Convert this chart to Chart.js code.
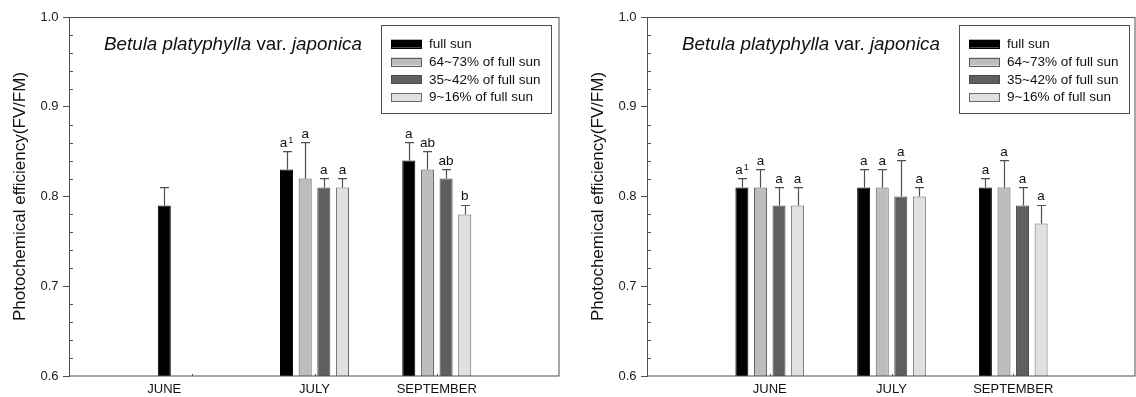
<!DOCTYPE html>
<html>
<head>
<meta charset="utf-8">
<script src="https://cdn.jsdelivr.net/npm/chart.js@4.4.1/dist/chart.umd.min.js"></script>
<style>
  html, body { margin: 0; padding: 0; background: #fff; }
  #wrap { position: relative; width: 1136px; height: 397px; overflow: hidden; }
  canvas { position: absolute; top: 0; }
  #left { left: 0; }
  #right { left: 568px; }
</style>
</head>
<body>
<div id="wrap">
  <canvas id="left" width="568" height="397"></canvas>
  <canvas id="right" width="568" height="397"></canvas>
</div>
<script>
// ---- data -------------------------------------------------------------
const categories = ['JUNE', 'JULY', 'SEPTEMBER'];
const seriesLabels = ['full sun', '64~73% of full sun', '35~42% of full sun', '9~16% of full sun'];
const yTicks = [0.6, 0.7, 0.8, 0.9, 1.0];
const speciesName = ['Betula platyphylla', 'var.', 'japonica'];
const yTitle = 'Photochemical efficiency(FV/FM)';

// left panel: means, upper standard errors and Duncan letters
const leftFullSun    = [0.79, 0.83, 0.84];
const leftShade64    = [null, 0.82, 0.83];
const leftShade35    = [null, 0.81, 0.82];
const leftShade9     = [null, 0.81, 0.78];
const leftFullSunErr = [0.02, 0.02, 0.02];
const leftShade64Err = [null, 0.04, 0.02];
const leftShade35Err = [null, 0.01, 0.01];
const leftShade9Err  = [null, 0.01, 0.01];
const leftFullSunSig = ['', 'a¹', 'a'];
const leftShade64Sig = ['', 'a', 'ab'];
const leftShade35Sig = ['', 'a', 'ab'];
const leftShade9Sig  = ['', 'a', 'b'];

// right panel
const rightFullSun    = [0.81, 0.81, 0.81];
const rightShade64    = [0.81, 0.81, 0.81];
const rightShade35    = [0.79, 0.80, 0.79];
const rightShade9     = [0.79, 0.80, 0.77];
const rightFullSunErr = [0.01, 0.02, 0.01];
const rightShade64Err = [0.02, 0.02, 0.03];
const rightShade35Err = [0.02, 0.04, 0.02];
const rightShade9Err  = [0.02, 0.01, 0.02];
const rightFullSunSig = ['a¹', 'a', 'a'];
const rightShade64Sig = ['a', 'a', 'a'];
const rightShade35Sig = ['a', 'a', 'a'];
const rightShade9Sig  = ['a', 'a', 'a'];

// ---- styling ----------------------------------------------------------
const FONT = '"Liberation Sans", Arial, Helvetica, sans-serif';
const seriesFill = ['#000000', '#bdbdbd', '#5f5f5f', '#e0e0e0'];
const seriesEdge = ['#000000', '#5a5a5a', '#4a4a4a', '#6a6a6a'];
const INK = '#111111';
const LINE = '#4f4f4f';
const CAT_PCT = 0.61;

// frame, minor ticks, error bars, letters, species name and boxed legend
const decorations = {
  id: 'decorations',
  afterDatasetsDraw(chart) {
    const { ctx, chartArea: a, scales: { x, y } } = chart;
    ctx.save();

    // frame around the plotting area
    ctx.strokeStyle = LINE;
    ctx.lineWidth = 1;
    ctx.strokeRect(Math.round(a.left) - 0.5, Math.round(a.top) + 0.5,
                   Math.round(a.right) - Math.round(a.left) + 0.5, Math.round(a.bottom) - Math.round(a.top) - 0.5);

    // short inward minor ticks every 0.02
    ctx.beginPath();
    for (let k = 1; k < 20; k++) {
      if (k % 5 === 0) continue;
      const py = Math.round(y.getPixelForValue(0.6 + k * 0.02)) + 0.5;
      ctx.moveTo(a.left, py);
      ctx.lineTo(a.left + 3, py);
    }
    // tiny inward ticks at the category positions
    categories.forEach((c, i) => {
      const px = Math.round(x.getPixelForValue(i)) + 0.5;
      ctx.moveTo(px, a.bottom);
      ctx.lineTo(px, a.bottom - 2);
    });
    ctx.stroke();

    // error bars (upper side only) and significance letters
    chart.data.datasets.forEach((ds, di) => {
      const meta = chart.getDatasetMeta(di);
      meta.data.forEach((bar, i) => {
        const v = ds.data[i];
        if (v === null || v === undefined) return;
        const e = ds.errors[i] || 0;
        const top = y.getPixelForValue(v + e);
        const cx = Math.round(bar.x) + 0.5;
        ctx.strokeStyle = LINE;
        ctx.lineWidth = 1.2;
        ctx.beginPath();
        ctx.moveTo(cx, bar.y);
        ctx.lineTo(cx, top);
        ctx.moveTo(cx - 4.5, top);
        ctx.lineTo(cx + 4.5, top);
        ctx.stroke();

        const txt = ds.letters[i];
        if (!txt) return;
        const main = txt.replace('¹', '');
        const sup = txt.includes('¹') ? '1' : '';
        ctx.fillStyle = INK;
        ctx.textBaseline = 'alphabetic';
        ctx.textAlign = 'left';
        ctx.font = '13.5px ' + FONT;
        const wMain = ctx.measureText(main).width;
        ctx.font = '9px ' + FONT;
        const wSup = sup ? ctx.measureText(sup).width + 1 : 0;
        const x0 = bar.x - (wMain + wSup) / 2;
        const base = top - 5;
        ctx.font = '13.5px ' + FONT;
        ctx.fillText(main, x0, base);
        if (sup) {
          ctx.font = '9px ' + FONT;
          ctx.fillText(sup, x0 + wMain + 1, base - 4);
        }
      });
    });

    // species name: italic binomial, upright "var."
    let tx = a.left + 34;
    const ty = 50;
    ctx.fillStyle = INK;
    ctx.textAlign = 'left';
    ctx.textBaseline = 'alphabetic';
    speciesName.forEach((part, k) => {
      ctx.font = (k === 1 ? '' : 'italic ') + '18.8px ' + FONT;
      const s = (k === 0 ? '' : ' ') + part;
      ctx.fillText(s, tx, ty);
      tx += ctx.measureText(s).width;
    });

    // legend box
    const bx = a.left + 311, by = 25, bw = 170, bh = 88;
    ctx.strokeStyle = LINE;
    ctx.lineWidth = 1;
    ctx.strokeRect(Math.round(bx) + 0.5, by + 0.5, bw, bh);
    ctx.font = '13.5px ' + FONT;
    ctx.textBaseline = 'middle';
    chart.data.datasets.forEach((ds, k) => {
      const cy = by + 18.7 + 17.8 * k;
      ctx.fillStyle = ds.backgroundColor;
      ctx.fillRect(bx + 10, cy - 4, 31, 8);
      ctx.strokeStyle = ds.borderColor;
      ctx.strokeRect(Math.round(bx + 10) + 0.5, Math.round(cy - 4) + 0.5, 30, 8);
      ctx.fillStyle = INK;
      ctx.fillText(ds.label, bx + 48, cy + 0.5);
    });

    ctx.restore();
  }
};

function makeChart(id, values, errors, letters, padLeft, padRight) {
  const datasets = values.map((vals, k) => ({
    label: seriesLabels[k],
    data: vals,
    errors: errors[k],
    letters: letters[k],
    backgroundColor: seriesFill[k],
    borderColor: seriesEdge[k],
    borderWidth: 1,
    categoryPercentage: CAT_PCT,
    barPercentage: 0.7
  }));

  return new Chart(document.getElementById(id), {
    type: 'bar',
    data: { labels: categories, datasets },
    plugins: [decorations],
    options: {
      responsive: false,
      devicePixelRatio: 1,
      animation: false,
      events: [],
      layout: { padding: { left: padLeft, right: padRight, top: 17, bottom: 0 } },
      plugins: { legend: { display: false }, tooltip: { enabled: false }, title: { display: false } },
      scales: {
        x: {
          type: 'category',
          offset: true,
          grid: { display: false, drawTicks: false },
          border: { display: false },
          ticks: {
            font: { family: FONT, size: 13 },
            color: INK,
            padding: 6,
            maxRotation: 0,
            autoSkip: false,
            callback: (v, i) => categories[i]
          },
          afterBuildTicks(scale) {
            // one empty category width of margin on each side of the groups
            scale._startValue = -1;
            scale._valueRange = scale.ticks.length + 1;
            // a month holding a single bar gets its label under that bar
            const dsets = scale.chart.data.datasets;
            const n = dsets.length;
            scale.ticks.forEach((t, i) => {
              const present = dsets.map((d, k) => (d.data[i] === null || d.data[i] === undefined) ? -1 : k).filter(k => k >= 0);
              if (present.length === 1 && n > 1) {
                t.value = i + (present[0] + 0.5 - n / 2) * CAT_PCT / n;
              }
            });
          },
          afterFit(scale) { scale.height = 21; }
        },
        y: {
          min: 0.6,
          max: 1.0,
          grid: { drawOnChartArea: false, drawTicks: true, tickLength: 7, color: LINE, lineWidth: 1 },
          border: { display: false },
          ticks: {
            font: { family: FONT, size: 13 },
            color: '#222',
            padding: 4.5,
            callback: v => v.toFixed(1)
          },
          afterBuildTicks(scale) { scale.ticks = yTicks.map(v => ({ value: v })); },
          title: {
            display: true,
            text: yTitle,
            font: { family: FONT, size: 17 },
            color: INK,
            padding: { top: 10, bottom: 0 }
          },
          afterFit(scale) { scale.width = 70; }
        }
      }
    }
  });
}

makeChart('left',
  [leftFullSun, leftShade64, leftShade35, leftShade9],
  [leftFullSunErr, leftShade64Err, leftShade35Err, leftShade9Err],
  [leftFullSunSig, leftShade64Sig, leftShade35Sig, leftShade9Sig],
  0, 9);

makeChart('right',
  [rightFullSun, rightShade64, rightShade35, rightShade9],
  [rightFullSunErr, rightShade64Err, rightShade35Err, rightShade9Err],
  [rightFullSunSig, rightShade64Sig, rightShade35Sig, rightShade9Sig],
  10, 1);
</script>
</body>
</html>
